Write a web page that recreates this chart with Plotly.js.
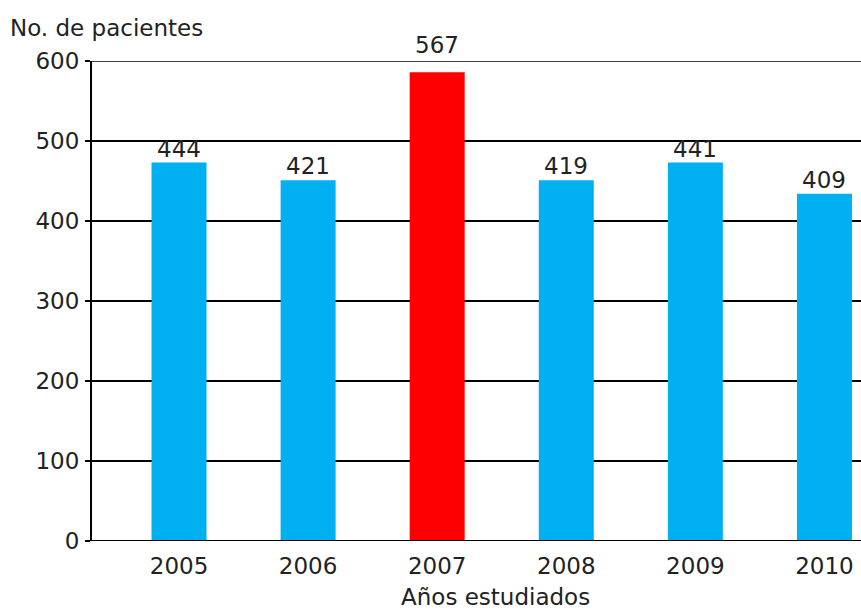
<!DOCTYPE html>
<html>
<head>
<meta charset="utf-8">
<script src="https://cdn.plot.ly/plotly-3.0.1.min.js"></script>
<style>html,body{margin:0;padding:0;background:#fff;}#chart{width:861px;height:610px;}</style>
</head>
<body>
<div id="chart"></div>
<script>
// Data
const years = ['2005', '2006', '2007', '2008', '2009', '2010'];
const barHeights = [473, 451, 586, 451, 473, 434];
const valueLabels = ['444', '421', '567', '419', '441', '409'];
const yTicks = [0, 100, 200, 300, 400, 500, 600];

const blue = '#00B0F0';
const red = '#FF0000';
const barColors = years.map(y => y === '2007' ? red : blue);
const FONT = 'DejaVu Sans, Verdana, sans-serif';
const FS = 23;
const TXT = '#222222';

const trace = {
  type: 'bar',
  x: years,
  y: barHeights,
  marker: { color: barColors, line: { width: 0 } },
  hoverinfo: 'skip'
};

const annotations = years.map((yr, i) => ({
  x: i, y: barHeights[i], xref: 'x', yref: 'y',
  text: valueLabels[i], showarrow: false,
  xanchor: 'center', yanchor: 'bottom', yshift: (yr === '2007' ? 12 : -1),
  font: { family: FONT, size: FS, color: TXT }
}));
annotations.push({
  xref: 'paper', yref: 'paper', x: 0.525, y: -0.117,
  xanchor: 'center', yanchor: 'middle', showarrow: false,
  text: 'Años estudiados',
  font: { family: FONT, size: FS, color: TXT }
});

const layout = {
  width: 861, height: 610,
  margin: { l: 92, r: 0, t: 61, b: 69, pad: 0 },
  paper_bgcolor: '#ffffff', plot_bgcolor: '#ffffff',
  showlegend: false,
  bargap: 0.574,
  title: {
    text: 'No. de pacientes',
    xref: 'container', yref: 'container',
    x: 10 / 861, xanchor: 'left', y: 1 - 28 / 610, yanchor: 'middle',
    font: { family: FONT, size: FS, color: TXT }
  },
  xaxis: {
    type: 'category',
    range: [-0.674, 5.283],
    showgrid: false, zeroline: false,
    showline: false, ticks: '',
    ticklabelstandoff: 9,
    tickfont: { family: FONT, size: FS, color: TXT },
    fixedrange: true
  },
  yaxis: {
    range: [0, 600],
    tickvals: yTicks,
    ticktext: yTicks.map(String),
    showgrid: true, gridcolor: '#000000', gridwidth: 1.5,
    zeroline: false,
    showline: true, linecolor: '#000000', linewidth: 2,
    ticks: 'outside', ticklen: 5, tickcolor: '#000000', tickwidth: 1.5,
    ticklabelstandoff: 1,
    tickfont: { family: FONT, size: FS, color: TXT },
    fixedrange: true
  },
  shapes: [
    { type: 'line', xref: 'paper', yref: 'y', x0: 0, x1: 1, y0: 0, y1: 0,
      line: { color: '#000000', width: 2 }, layer: 'above' },
    { type: 'line', xref: 'paper', yref: 'y', x0: 0, x1: 1, y0: 600, y1: 600,
      line: { color: '#000000', width: 1.5 }, layer: 'below' }
  ],
  annotations: annotations
};

Plotly.newPlot('chart', [trace], layout, { displayModeBar: false, staticPlot: true });
</script>
</body>
</html>
